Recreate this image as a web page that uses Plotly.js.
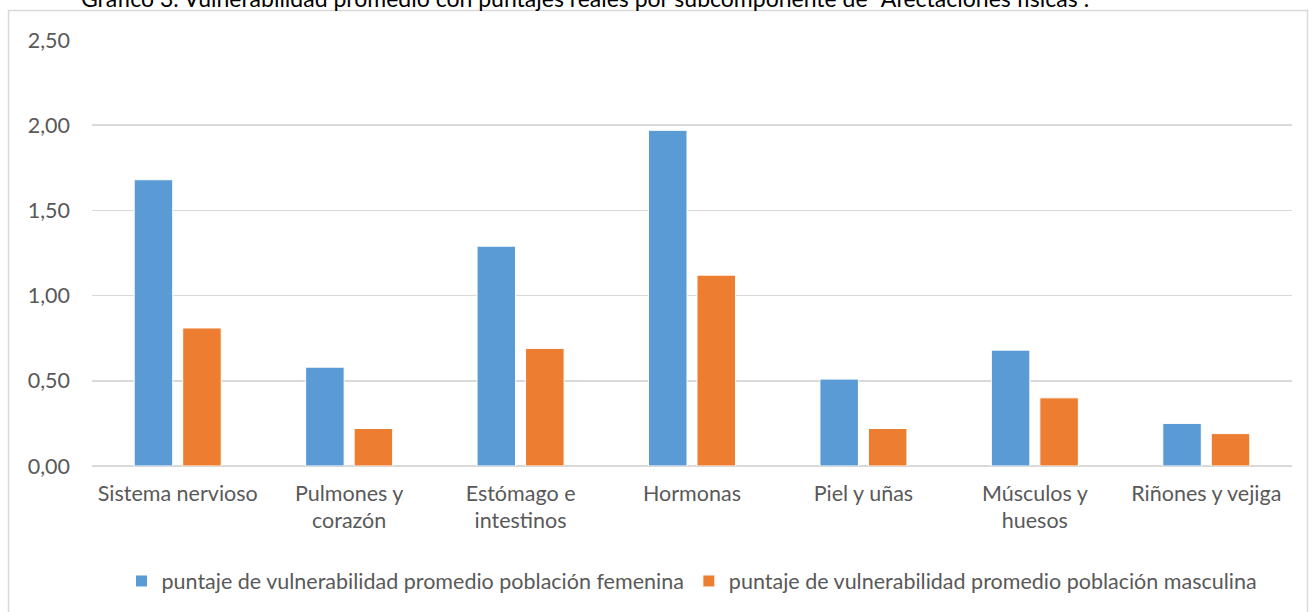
<!DOCTYPE html>
<html>
<head>
<meta charset="utf-8">
<script src="https://cdn.plot.ly/plotly-3.0.1.min.js"></script>
<style>html,body{margin:0;padding:0;background:#fff;}#chart{width:1309px;height:612px;}</style>
</head>
<body>
<div id="chart"></div>
<script>
const categories = ["Sistema nervioso", "Pulmones y<br>corazón", "Estómago e<br>intestinos", "Hormonas", "Piel y uñas", "Músculos y<br>huesos", "Riñones y vejiga"];
const femenina = [1.68, 0.58, 1.29, 1.97, 0.51, 0.68, 0.25];
const masculina = [0.81, 0.22, 0.69, 1.12, 0.22, 0.40, 0.19];
const seriesNames = ["puntaje de vulnerabilidad promedio población femenina", "puntaje de vulnerabilidad promedio población masculina"];
const yTicks = [0, 0.5, 1, 1.5, 2, 2.5];
const titleText = 'Gráfico 3. Vulnerabilidad promedio con puntajes reales por subcomponente de "Afectaciones físicas".';

const FONT = "Lato, 'Open Sans', sans-serif";
const FS = 21.5;
const traces = [
  {type: 'bar', x: categories, y: femenina, name: seriesNames[0],
   marker: {color: '#5B9BD5', line: {color: '#ffffff', width: 1}}, hoverinfo: 'y'},
  {type: 'bar', x: categories, y: masculina, name: seriesNames[1],
   marker: {color: '#ED7D31', line: {color: '#ffffff', width: 1}}, hoverinfo: 'y'}
];
const layout = {
  width: 1309, height: 612,
  margin: {l: 92, r: 17, t: 40, b: 145},
  paper_bgcolor: '#ffffff', plot_bgcolor: '#ffffff',
  font: {family: FONT, color: '#595959', size: FS},
  separators: ',.',
  barmode: 'group', bargap: 0.434, bargroupgap: 0.206,
  showlegend: true,
  legend: {orientation: 'h', x: 0.5, xanchor: 'center', y: -0.267, yanchor: 'middle',
           font: {family: FONT, size: FS, color: '#595959'}, itemwidth: 30, traceorder: 'normal'},
  xaxis: {type: 'category', showgrid: false, zeroline: false, showline: false, ticks: '',
          ticklabelstandoff: 12, tickfont: {family: FONT, size: FS, color: '#595959'}},
  yaxis: {range: [0, 2.5], tickvals: yTicks, tickformat: '.2f', showgrid: true, gridcolor: '#d9d9d9', gridwidth: 1.5,
          zeroline: true, zerolinecolor: '#d9d9d9', zerolinewidth: 1.5, showline: false, ticks: '',
          ticklabelstandoff: 21, tickfont: {family: FONT, size: FS, color: '#595959'}},
  shapes: [{type: 'rect', xref: 'paper', yref: 'paper',
            x0: (8.5 - 92) / 1200, x1: (1307.5 - 92) / 1200,
            y0: -(640 - 467) / 427, y1: 1 + (40 - 10.5) / 427,
            line: {color: '#d9d9d9', width: 1.5}, fillcolor: 'rgba(0,0,0,0)', layer: 'below'}],
  annotations: [{text: titleText, xref: 'paper', yref: 'paper', x: (585 - 92) / 1200, xanchor: 'center',
                 y: 1 + (40 - 14) / 427, yanchor: 'bottom', showarrow: false,
                 font: {family: FONT, size: 23, color: '#000000'}}]
};
Plotly.newPlot('chart', traces, layout, {displayModeBar: false, staticPlot: true});
</script>
</body>
</html>
